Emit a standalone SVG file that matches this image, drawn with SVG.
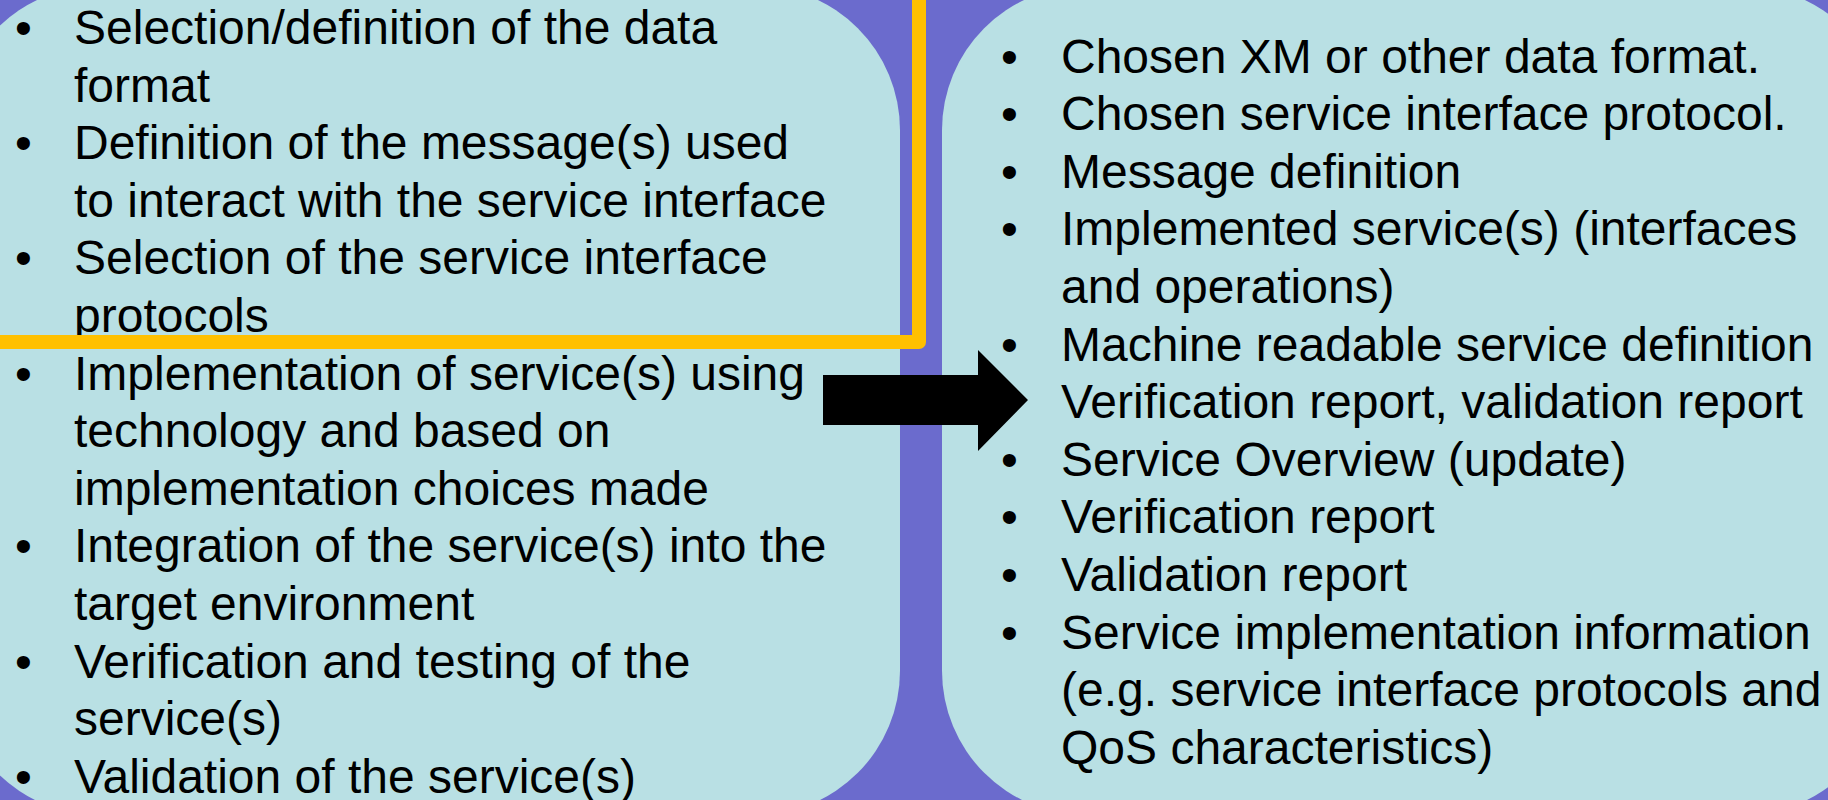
<svg xmlns="http://www.w3.org/2000/svg" width="1828" height="800" viewBox="0 0 1828 800">
  <style>
    .panel { fill: #B9E0E4; }
    .txt { font-family: "Liberation Sans", Arial, sans-serif; font-size: 48px; fill: #000000; }
    .highlight { fill: none; stroke: #FFC000; stroke-width: 14; stroke-linejoin: round; }
  </style>

  <!-- backdrop -->
  <rect id="background" x="0" y="0" width="1828" height="800" fill="#6B6BCD"/>

  <!-- activities panel -->
  <g id="node-activities">
    <rect class="panel" x="-45" y="-14" width="945" height="829" rx="144" ry="144"/>
    <g class="txt">
      <text x="15" y="44">•</text>
      <text x="74" y="44">Selection/definition of the data</text>
      <text x="74" y="101.6">format</text>
      <text x="15" y="159.2">•</text>
      <text x="74" y="159.2">Definition of the message(s) used</text>
      <text x="74" y="216.8">to interact with the service interface</text>
      <text x="15" y="274.4">•</text>
      <text x="74" y="274.4">Selection of the service interface</text>
      <text x="74" y="332">protocols</text>
      <text x="15" y="389.6">•</text>
      <text x="74" y="389.6">Implementation of service(s) using</text>
      <text x="74" y="447.2">technology and based on</text>
      <text x="74" y="504.8">implementation choices made</text>
      <text x="15" y="562.4">•</text>
      <text x="74" y="562.4">Integration of the service(s) into the</text>
      <text x="74" y="620">target environment</text>
      <text x="15" y="677.6">•</text>
      <text x="74" y="677.6">Verification and testing of the</text>
      <text x="74" y="735.2">service(s)</text>
      <text x="15" y="792.8">•</text>
      <text x="74" y="792.8">Validation of the service(s)</text>
    </g>
  </g>

  <!-- results panel -->
  <g id="node-results">
    <rect class="panel" x="942" y="-14" width="945" height="829" rx="144" ry="144"/>
    <g class="txt">
      <text x="1001" y="72.5">•</text>
      <text x="1061" y="72.5">Chosen XM or other data format.</text>
      <text x="1001" y="130.1">•</text>
      <text x="1061" y="130.1">Chosen service interface protocol.</text>
      <text x="1001" y="187.7">•</text>
      <text x="1061" y="187.7">Message definition</text>
      <text x="1001" y="245.3">•</text>
      <text x="1061" y="245.3">Implemented service(s) (interfaces</text>
      <text x="1061" y="302.9">and operations)</text>
      <text x="1001" y="360.5">•</text>
      <text x="1061" y="360.5">Machine readable service definition</text>
      <text x="1061" y="418.1">Verification report, validation report</text>
      <text x="1001" y="475.7">•</text>
      <text x="1061" y="475.7">Service Overview (update)</text>
      <text x="1001" y="533.3">•</text>
      <text x="1061" y="533.3">Verification report</text>
      <text x="1001" y="590.9">•</text>
      <text x="1061" y="590.9">Validation report</text>
      <text x="1001" y="648.5">•</text>
      <text x="1061" y="648.5">Service implementation information</text>
      <text x="1061" y="706.1">(e.g. service interface protocols and</text>
      <text x="1061" y="763.7">QoS characteristics)</text>
    </g>
  </g>

  <!-- highlight frame around the design steps -->
  <g id="node-design-highlight">
    <path class="highlight" d="M -20 342 L 919 342 L 919 -20"/>
  </g>

  <!-- block arrow from activities to results -->
  <g id="connectors">
    <polygon points="823,375 978,375 978,350 1028,400 978,451 978,425 823,425" fill="#000000"/>
  </g>
</svg>
